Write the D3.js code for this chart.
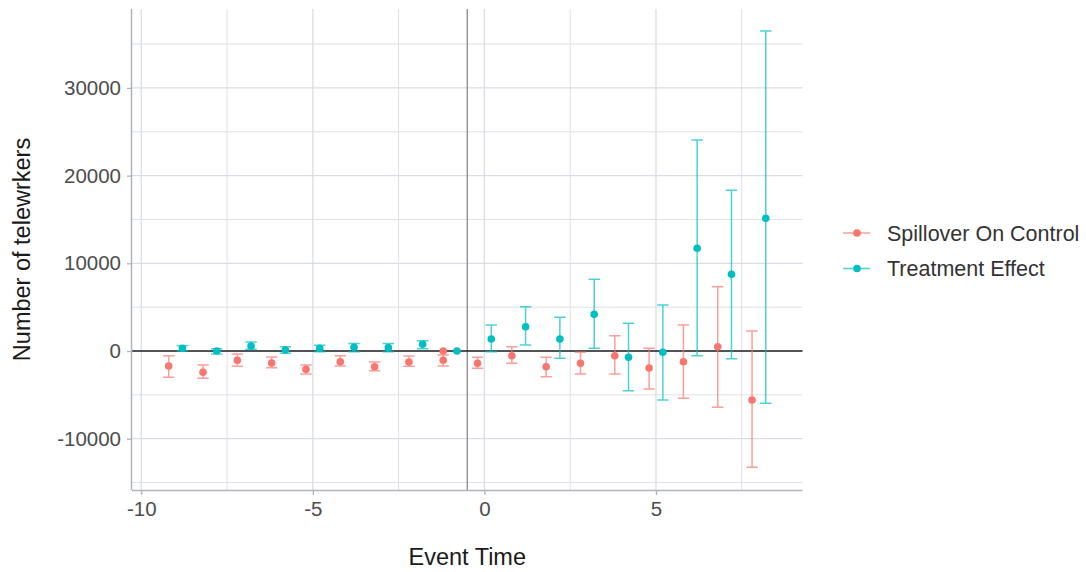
<!DOCTYPE html>
<html>
<head>
<meta charset="utf-8">
<script src="https://cdn.jsdelivr.net/npm/d3@7"></script>
<style>
  body { margin: 0; background: #fff; }
  svg { display: block; font-family: "Liberation Sans", Arial, sans-serif; }
</style>
</head>
<body>
<svg id="chart" width="1086" height="572"></svg>
<script>
// event times and estimates
const eventTime = [-9, -8, -7, -6, -5, -4, -3, -2, -1, 0, 1, 2, 3, 4, 5, 6, 7, 8];

const spillEst = [-1710, -2430, -1060, -1370, -2090, -1220, -1790, -1250, -1060, -1400, -540, -1790, -1400, -540, -1940, -1220, 490, -5590];
const spillLo  = [-3000, -3110, -1750, -1900, -2620, -1710, -2240, -1750, -1710, -1980, -1400, -2930, -2620, -2620, -4330, -5400, -6420, -13260];
const spillHi  = [-540, -1600, -340, -680, -1600, -530, -1250, -570, -460, -720, 490, -720, -150, 1750, 300, 2960, 7330, 2280];

const treatEst = [300, 0, 570, 110, 300, 420, 380, 760, 0, 1370, 2770, 1370, 4180, -720, -150, 11710, 8750, 15130];
const treatLo  = [0, -340, 190, -260, -80, -80, -80, 250, null, -80, 680, -840, 300, -4520, -5590, -540, -880, -5960];
const treatHi  = [600, 260, 1030, 490, 650, 870, 870, 1180, null, 2960, 5050, 3840, 8180, 3160, 5250, 24060, 18320, 36490];

// reference period rows without a confidence interval
const refTime = [-1];
const refSpill = [0];

const seriesNames = ['Spillover On Control', 'Treatment Effect'];
const seriesColors = ['#F8766D', '#00BFC4'];
const dodge = [-0.2, 0.2];

const xTicks = [-10, -5, 0, 5];
const xMinor = [-7.5, -2.5, 2.5, 7.5];
const yTicks = [-10000, 0, 10000, 20000, 30000];
const yMinor = [-15000, -5000, 5000, 15000, 25000, 35000];

const svg = d3.select('#chart');
const panel = {left: 132, right: 802.5, top: 9, bottom: 490};

const x = d3.scaleLinear().domain([-10.27, 9.27]).range([panel.left, panel.right]);
const y = d3.scaleLinear().domain([-15850, 39000]).range([panel.bottom, panel.top]);

// plain hyphen for negatives, like the original
const plain = d => String(d);

// gridlines
const grid = svg.append('g');
grid.selectAll('.ym').data(yMinor).enter().append('line')
    .attr('x1', panel.left).attr('x2', panel.right)
    .attr('y1', d => y(d)).attr('y2', d => y(d))
    .attr('stroke', '#dfe1e6').attr('stroke-width', 1);
grid.selectAll('.xm').data(xMinor).enter().append('line')
    .attr('y1', panel.top).attr('y2', panel.bottom)
    .attr('x1', d => x(d)).attr('x2', d => x(d))
    .attr('stroke', '#dfe1e6').attr('stroke-width', 1);
grid.selectAll('.yM').data(yTicks).enter().append('line')
    .attr('x1', panel.left).attr('x2', panel.right)
    .attr('y1', d => y(d)).attr('y2', d => y(d))
    .attr('stroke', '#dadde3').attr('stroke-width', 1.3);
grid.selectAll('.xM').data(xTicks).enter().append('line')
    .attr('y1', panel.top).attr('y2', panel.bottom)
    .attr('x1', d => x(d)).attr('x2', d => x(d))
    .attr('stroke', '#dadde3').attr('stroke-width', 1.3);

// reference lines
svg.append('line')
    .attr('x1', x(-0.5)).attr('x2', x(-0.5))
    .attr('y1', panel.top).attr('y2', panel.bottom)
    .attr('stroke', '#8a8a8a').attr('stroke-width', 1.3);
svg.append('line')
    .attr('x1', panel.left).attr('x2', panel.right)
    .attr('y1', y(0)).attr('y2', y(0))
    .attr('stroke', '#222').attr('stroke-width', 1.5);

// axes
const xAxis = svg.append('g')
    .attr('transform', `translate(0, ${panel.bottom})`)
    .call(d3.axisBottom(x).tickValues(xTicks).tickSize(5).tickPadding(6).tickFormat(plain));
const yAxis = svg.append('g')
    .attr('transform', `translate(${panel.left}, 0)`)
    .call(d3.axisLeft(y).tickValues(yTicks).tickSize(5).tickPadding(6).tickFormat(plain));
[xAxis, yAxis].forEach(ax => {
    ax.select('.domain').attr('stroke', '#b0b3ba').attr('stroke-width', 1.5);
    ax.selectAll('.tick line').attr('stroke', '#b0b3ba').attr('stroke-width', 1.3);
    ax.selectAll('.tick text')
        .attr('fill', '#4d4d4d')
        .style('font-size', '20.5px')
        .style('font-family', '"Liberation Sans", Arial, sans-serif');
});
xAxis.select('.domain').attr('d', `M${panel.left},0.5H${panel.right}`);
yAxis.select('.domain').attr('d', `M-0.5,${panel.top}V${panel.bottom}`);

// titles
svg.append('text')
    .attr('x', (panel.left + panel.right) / 2).attr('y', 565)
    .attr('text-anchor', 'middle')
    .attr('fill', '#1a1a1a')
    .style('font-size', '23.5px')
    .text('Event Time');
svg.append('text')
    .attr('transform', `translate(30, ${(panel.top + panel.bottom) / 2}) rotate(-90)`)
    .attr('text-anchor', 'middle')
    .attr('fill', '#1a1a1a')
    .style('font-size', '23.5px')
    .text('Number of telewrkers');

// series
const series = [
    {est: spillEst, lo: spillLo, hi: spillHi},
    {est: treatEst, lo: treatLo, hi: treatHi}
];
const capHalf = 5.7;

series.forEach((s, si) => {
    var rows = eventTime.map((t, i) => ({
        t: t + dodge[si], est: s.est[i], lo: s.lo[i], hi: s.hi[i]
    }));
    var g = svg.append('g');
    var bars = rows.filter(r => r.lo !== null);
    var eb = g.append('g')
        .attr('stroke', seriesColors[si])
        .attr('stroke-opacity', 0.7)
        .attr('stroke-width', 1.5)
        .attr('fill', 'none');
    eb.selectAll('path').data(bars).enter().append('path')
        .attr('d', r => {
            var cx = x(r.t), y1 = y(r.hi), y2 = y(r.lo);
            return `M${cx - capHalf},${y1}H${cx + capHalf}M${cx},${y1}V${y2}M${cx - capHalf},${y2}H${cx + capHalf}`;
        });
    g.selectAll('circle').data(rows).enter().append('circle')
        .attr('cx', r => x(r.t))
        .attr('cy', r => y(r.est))
        .attr('r', 3.8)
        .attr('fill', seriesColors[si]);
});

// extra reference-period points
svg.append('g').selectAll('circle')
    .data(refTime.map((t, i) => ({t: t + dodge[0], est: refSpill[i]})))
    .enter().append('circle')
    .attr('cx', r => x(r.t))
    .attr('cy', r => y(r.est))
    .attr('r', 3.8)
    .attr('fill', seriesColors[0]);

// legend
const legend = svg.append('g').attr('transform', 'translate(843, 233)');
seriesNames.forEach((name, i) => {
    var row = legend.append('g').attr('transform', `translate(0, ${i * 35.5})`);
    row.append('line')
        .attr('x1', 0).attr('x2', 27)
        .attr('stroke', seriesColors[i]).attr('stroke-opacity', 0.7)
        .attr('stroke-width', 1.5);
    row.append('circle')
        .attr('cx', 14).attr('r', 3.8)
        .attr('fill', seriesColors[i]);
    row.append('text')
        .attr('x', 44).attr('dy', '0.35em')
        .attr('fill', '#333')
        .style('font-size', '21.5px')
        .text(name);
});
</script>
</body>
</html>
